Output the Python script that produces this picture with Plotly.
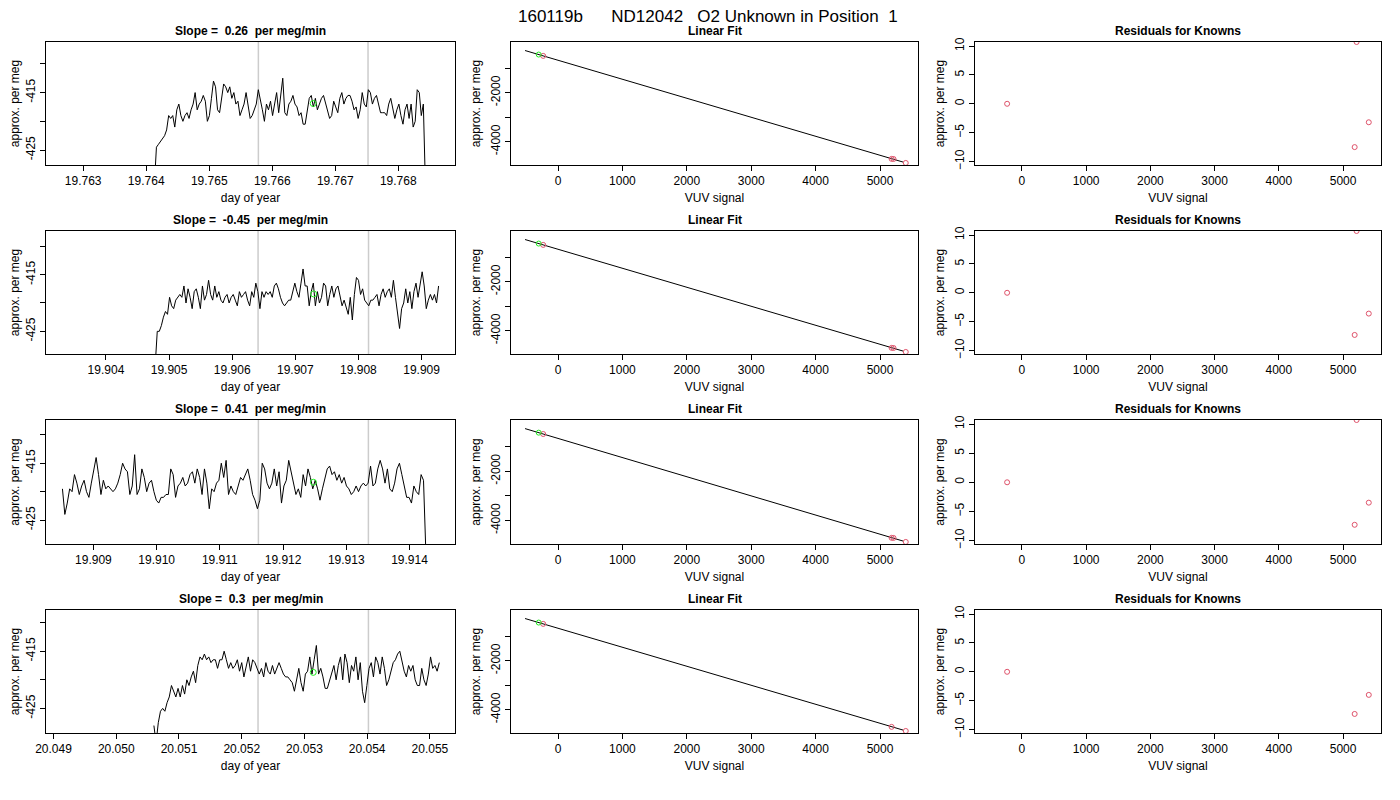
import numpy as np
import plotly.graph_objects as go

# ---- data -------------------------------------------------------------
title = "160119b      ND12042   O2 Unknown in Position  1"
slopes = ["0.26", "-0.45", "0.41", "0.3"]

ts_start = [19.76413, 19.90478, 19.90851, 20.05060]
ts_end = [19.76843, 19.90927, 19.91426, 20.05515]
ts_xrange = [[19.76241, 19.76890], [19.90305, 19.90953],
             [19.90825, 19.91472], [20.04888, 20.05540]]
ts_yrange = [[-427.6, -406.2], [-429.0, -407.3], [-429.2, -407.4], [-429.3, -407.8]]
ts_ticks = [[19.763, 19.764, 19.765, 19.766, 19.767, 19.768],
            [19.904, 19.905, 19.906, 19.907, 19.908, 19.909],
            [19.909, 19.910, 19.911, 19.912, 19.913, 19.914],
            [20.049, 20.050, 20.051, 20.052, 20.053, 20.054, 20.055]]
window_lines = [[19.76578, 19.76752], [19.90641, 19.90816],
                [19.91161, 19.91335], [20.05226, 20.05402]]
unknown_t = [19.76665, 19.90729, 19.91248, 20.05314]
unknown_v = [-416.9, -418.4, -418.35, -418.7]

ts_values = [
    [-431, -424.5, -424, -423.5, -423, -422.5, -421.5, -419, -419.5, -419, -421, -418, -417, -419, -420,
     -419, -418.5, -419.5, -418, -417, -415, -418, -417, -416.5, -415.5, -416.5, -420, -419, -416, -413,
     -414, -418, -418.5, -415.5, -413.5, -414, -415, -414, -416, -415, -417, -416.5, -419, -418, -417,
     -415, -417.5, -419.5, -419, -418, -417, -414.5, -416, -418, -420, -417, -418, -416.5, -419, -417,
     -415, -418.5, -415, -412.5, -418.5, -419, -417, -416.5, -415.5, -417, -417.5, -419, -418.5, -420.5,
     -420.5, -418, -416, -415.5, -417.5, -416, -418, -417, -416, -415.5, -417, -418.5, -419.5, -419,
     -416.5, -417.5, -418.5, -416, -415, -417, -416, -415.5, -415.5, -416.5, -418, -417.5, -419.5, -418,
     -415, -417, -417.5, -414.5, -415, -417, -416, -415.5, -417, -418.5, -418.5, -418.5, -419, -417,
     -416, -417.5, -419.5, -418, -417, -419, -420.5, -418, -417, -419.5, -417, -421, -420, -414.5, -415,
     -419, -417, -431],
    [-431, -425, -425, -424, -422.5, -421.5, -422, -419, -420.5, -421, -419.5, -419, -418.5, -419, -417,
     -420, -417.5, -419, -421, -418, -417.5, -419, -421, -417, -419.5, -418.5, -416, -418.5, -419.5, -417,
     -419, -418, -419.5, -420, -419, -418.5, -420, -419, -418.5, -419.5, -420.5, -418, -419, -418.5, -418,
     -419.5, -420.5, -418, -419, -416.5, -418, -421, -418, -419, -418, -418.5, -418, -419, -417, -416.5,
     -417.5, -419, -420, -420.5, -420, -419.5, -419.5, -418, -416.5, -418, -419, -416.5, -414, -417, -417,
     -420.5, -418, -416.5, -420.5, -418, -420, -419, -416.5, -417, -420.5, -418.5, -417, -419, -417.5,
     -417, -419, -420.5, -419.5, -421, -422, -419, -423, -418.5, -415.5, -416, -418.5, -417.5, -419.5,
     -420, -420.5, -419.5, -419.5, -419, -418.5, -420.5, -418.5, -417.5, -419, -418, -417.5, -419, -416,
     -419, -421.5, -424.5, -421, -420, -417.5, -420, -418, -421, -418, -416.5, -419, -417, -414.5, -417,
     -421, -419.5, -418.5, -419.5, -418.5, -420, -417],
    [-419.5, -424, -422, -419.5, -420, -417, -418.5, -420.5, -419, -418, -420, -421, -418.5, -416, -414,
     -417, -420.5, -418, -419.5, -419, -419.5, -420, -419.5, -418.5, -417, -415, -416, -416.5, -420.5,
     -419, -413.5, -420.5, -419.5, -416, -417.5, -420, -418.5, -418, -420, -421.5, -422, -421, -421,
     -420.5, -420.5, -416, -417, -421, -419, -418.5, -417.5, -419, -418.5, -417, -416.5, -418.5, -416,
     -417.5, -420.5, -416, -418.5, -423, -419.5, -420, -418.5, -418, -415, -417.5, -414.5, -420.5, -419,
     -420, -420.5, -419, -417.5, -418, -417, -416, -418, -420.5, -421.5, -423, -421.5, -415, -416, -418.5,
     -419.5, -418.5, -416, -419, -416.5, -422, -419, -418, -414.5, -416.5, -418.5, -420.5, -419.5, -421,
     -417, -419, -416, -417.5, -419.5, -418, -419.5, -421.5, -419.5, -417.5, -416, -415.5, -417, -416.5,
     -418, -417, -418.5, -417.5, -419, -419.5, -420.5, -420, -419, -420, -419, -418.5, -419, -418.5,
     -415.5, -419, -418.5, -416, -414.5, -416, -418.5, -416, -419.5, -420, -418.5, -416, -415, -417, -419,
     -421, -421, -422, -419, -420, -420.5, -417, -418, -431],
    [-428, -431, -427.5, -425.5, -425, -425.5, -424, -423, -421, -422, -423, -421.5, -423, -421, -422.5,
     -420, -421, -419.5, -418.5, -420.5, -417.5, -416, -416.5, -415.5, -416.5, -416, -417, -416.5, -416.5,
     -418, -416.5, -416.5, -415, -416.5, -418, -417, -418, -417.5, -416.5, -418.5, -417, -419.5, -417.5,
     -416, -418.5, -416.5, -417, -418, -419, -418, -419.5, -417, -418.5, -419, -417.5, -419, -418, -417,
     -418, -419, -419.5, -419.5, -420, -420.5, -422, -420, -418, -420.5, -422, -419, -418.5, -416, -419,
     -416.5, -414, -419, -418, -419.5, -421.5, -421.5, -420, -419, -417.5, -420, -417.5, -416, -420,
     -415.5, -417, -420.5, -417.5, -418.5, -416, -420, -417, -422, -424, -421, -418, -417, -419.5, -416,
     -417, -419, -416, -418, -421, -420, -418.5, -417, -416.5, -415.5, -415, -417, -418.5, -419.5, -417.5,
     -418.5, -417.5, -420, -421, -421, -418, -420, -421, -419, -416, -418, -417.5, -418.5, -417],
]

fit_x = [-512, 5357]
fit_y = [-278, -4830]
unknown_sig = [-300, -300, -300, -300]
unknown_val = [-442, -442, -442, -442]
known_x = [[-230, 5180, 5210, 5400], [-230, 5180, 5210, 5400],
           [-230, 5180, 5210, 5400], [-230, 5180, 5400]]
known_y = [[-497, -4700, -4705, -4866], [-497, -4700, -4705, -4866],
           [-497, -4700, -4705, -4866], [-497, -4700, -4867]]
resid = [[0, -7.5, 10.7, -3.2], [0, -7.3, 10.7, -3.6],
         [0, -7.3, 10.7, -3.5], [0, -7.3, -4.0]]

# ---- layout helpers ---------------------------------------------------
W, H = 1400, 800
OFF = 8  # the axes come out 8px further down/right than their domain says
col_px = [(46, 455), (511, 918), (975, 1381)]
row_px = [(42, 165), (231, 354), (420, 544), (610, 733)]
FONT = "Liberation Sans, Arial, sans-serif"
RED = "#DF536B"
GREEN = "#22EE22"


def px_x(p):
    return (p - OFF) / W


def px_y(p):
    return 1 - (p - OFF) / H


fig = go.Figure()
layout = {}
annotations = []
shapes = []


def axis_common():
    return dict(showline=True, linecolor="black", linewidth=1, mirror=True,
                ticks="outside", ticklen=5, tickcolor="black", showgrid=False,
                zeroline=False, automargin=False, tickfont=dict(size=12, color="black"),
                title_font=dict(size=12, color="black"))


n = 0
for r in range(4):
    y0 = px_y(row_px[r][1])
    y1 = px_y(row_px[r][0])
    for c in range(3):
        n += 1
        xa = "x" if n == 1 else f"x{n}"
        ya = "y" if n == 1 else f"y{n}"
        xk = "xaxis" if n == 1 else f"xaxis{n}"
        yk = "yaxis" if n == 1 else f"yaxis{n}"
        xd = [px_x(col_px[c][0]), px_x(col_px[c][1])]
        xax = axis_common()
        yax = axis_common()
        xax.update(domain=xd, anchor=ya)
        yax.update(domain=[y0, y1], anchor=xa, tickangle=-90, title_standoff=6)

        if c == 0:
            t = np.linspace(ts_start[r], ts_end[r], len(ts_values[r]))
            fig.add_trace(go.Scatter(x=t, y=ts_values[r], mode="lines", xaxis=xa, yaxis=ya,
                                     line=dict(color="black", width=1), showlegend=False))
            fig.add_trace(go.Scatter(x=[unknown_t[r]], y=[unknown_v[r]], mode="markers",
                                     xaxis=xa, yaxis=ya, showlegend=False,
                                     marker=dict(symbol="circle-open", size=6, color=GREEN)))
            for v in window_lines[r]:
                shapes.append(dict(type="line", xref=xa, yref=f"{ya} domain", x0=v, x1=v,
                                   y0=0, y1=1, line=dict(color="#cccccc", width=1.5), layer="below"))
            xax.update(range=ts_xrange[r], tickvals=ts_ticks[r],
                       ticktext=[f"{v:.3f}" for v in ts_ticks[r]], title_text="day of year")
            yax.update(range=ts_yrange[r], tickvals=[-410, -415, -420, -425],
                       ticktext=["", "-415", "", "-425"], title_text="approx. per meg")
            ttl = f"Slope =  {slopes[r]}  per meg/min"
        elif c == 1:
            fig.add_trace(go.Scatter(x=fit_x, y=fit_y, mode="lines", xaxis=xa, yaxis=ya,
                                     line=dict(color="black", width=1), showlegend=False))
            fig.add_trace(go.Scatter(x=known_x[r], y=known_y[r], mode="markers", xaxis=xa,
                                     yaxis=ya, showlegend=False,
                                     marker=dict(symbol="circle-open", size=5, color=RED)))
            fig.add_trace(go.Scatter(x=[unknown_sig[r]], y=[unknown_val[r]], mode="markers",
                                     xaxis=xa, yaxis=ya, showlegend=False,
                                     marker=dict(symbol="circle-open", size=5, color=GREEN)))
            xax.update(range=[-730, 5590], tickvals=[0, 1000, 2000, 3000, 4000, 5000],
                       title_text="VUV signal")
            yax.update(range=[-4950, 70], tickvals=[-1000, -2000, -3000, -4000],
                       ticktext=["", "-2000", "", "-4000"], title_text="approx. per meg")
            ttl = "Linear Fit"
        else:
            fig.add_trace(go.Scatter(x=known_x[r], y=resid[r], mode="markers", xaxis=xa,
                                     yaxis=ya, showlegend=False,
                                     marker=dict(symbol="circle-open", size=5, color=RED)))
            xax.update(range=[-730, 5590], tickvals=[0, 1000, 2000, 3000, 4000, 5000],
                       title_text="VUV signal")
            yax.update(range=[-10.6, 10.7], tickvals=[-10, -5, 0, 5, 10],
                       title_text="approx. per meg")
            ttl = "Residuals for Knowns"

        xax.update(title_standoff=6)
        layout[xk] = xax
        layout[yk] = yax
        annotations.append(dict(text=f"<b>{ttl}</b>", xref="paper", yref="paper",
                                x=sum(xd) / 2, y=y1, xanchor="center", yanchor="bottom",
                                yshift=2, showarrow=False, font=dict(size=12, color="black")))

annotations.append(dict(text=title, xref="paper", yref="paper", x=0.5, y=1 - 9 / H,
                        xanchor="center", yanchor="middle", showarrow=False,
                        font=dict(size=17, color="black")))

fig.update_layout(width=W, height=H, margin=dict(l=0, r=0, t=0, b=0),
                  plot_bgcolor="white", paper_bgcolor="white",
                  font=dict(family=FONT, color="black"),
                  annotations=annotations, shapes=shapes, **layout)

fig.write_html("out.html")
